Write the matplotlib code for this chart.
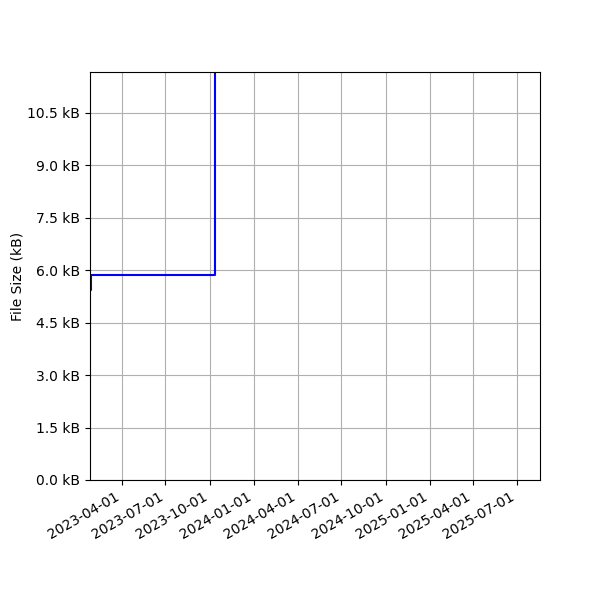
import numpy as np
import pandas as pd
import matplotlib
matplotlib.use("Agg")
import matplotlib.pyplot as plt
import matplotlib.dates as mdates
from matplotlib.ticker import FuncFormatter, MultipleLocator

# file size history (kB), step changes
dates = pd.to_datetime(["2023-01-25", "2023-01-27", "2023-10-11", "2025-08-18"])
sizes = [5.42, 5.85, 15.0, 15.0]

x_start = pd.Timestamp("2023-01-25")
x_end = pd.Timestamp("2025-08-18")
y_top = 11.66

fig, ax = plt.subplots(figsize=(6, 6), dpi=100)
ax.plot(dates, sizes, color="blue", drawstyle="steps-post", linewidth=1.5)

ax.set_xlim(x_start, x_end)
ax.set_ylim(0, y_top)
ax.yaxis.set_major_locator(MultipleLocator(1.5))
ax.yaxis.set_major_formatter(FuncFormatter(lambda v, p: f"{v:.1f} kB"))
ax.xaxis.set_major_locator(mdates.MonthLocator(bymonth=[1, 4, 7, 10]))
ax.xaxis.set_major_formatter(mdates.DateFormatter("%Y-%m-%d"))
ax.set_ylabel("File Size (kB)", labelpad=2)
ax.grid(True)

fig.autofmt_xdate()
fig.subplots_adjust(left=0.15, right=0.9, top=0.88, bottom=0.2)
fig.savefig("out.png", dpi=100)
